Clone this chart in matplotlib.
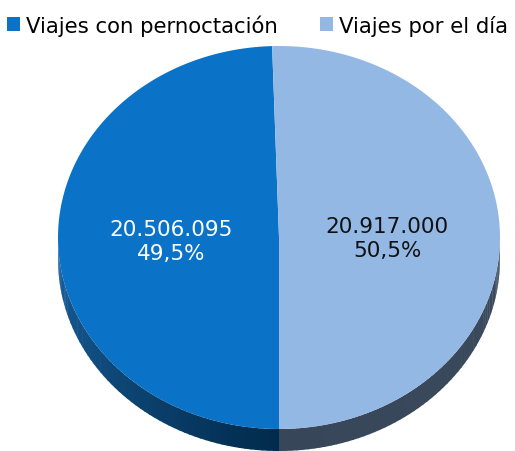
import numpy as np
import matplotlib.pyplot as plt
from matplotlib.patches import Polygon, Patch
from matplotlib.colors import to_rgb

# Datos
categorias = ['Viajes con pernoctación', 'Viajes por el día']
valores = [20506095, 20917000]
colores = ['#0a73c7', '#94b8e4']
color_texto = ['white', '#111111']

# Geometría de la tarta (en píxeles)
cx, cy = 279, 238.5
a, b = 221, 191.5
prof = 22

total = sum(valores)
fracs = [v / total for v in valores]

fig = plt.figure(figsize=(5.15, 4.52), dpi=100)
ax = fig.add_axes([0, 0, 1, 1])
ax.set_xlim(0, 515)
ax.set_ylim(452, 0)
ax.axis('off')


def punto(t, dy=0.0):
    t = np.radians(t)
    return cx + a * np.cos(t), cy - b * np.sin(t) + dy


# ángulos de las porciones: la primera termina abajo (270°)
fin0 = 270.0
ini0 = fin0 - fracs[0] * 360
angulos = [(ini0, fin0), (fin0, ini0 + 360)]

# lateral (solo la mitad inferior es visible)
def lateral(t1, t2, c1, c2, n=60):
    ts = np.linspace(t1, t2, n + 1)
    c1, c2 = np.array(to_rgb(c1)), np.array(to_rgb(c2))
    for i in range(n):
        tt = np.linspace(ts[i], ts[i + 1] + 0.3, 4)
        xs, ys = punto(tt)
        xb, yb = punto(tt[::-1], prof)
        pts = np.column_stack([np.r_[xs, xb], np.r_[ys, yb]])
        col = c1 + (c2 - c1) * (i / n)
        ax.add_patch(Polygon(pts, closed=True, fc=col, ec='none'))

lateral(180, 270, '#1a609c', '#002a4b')
lateral(270, 360, '#384659', '#3b4a5e')

# cara superior
for (t1, t2), col in zip(angulos, colores):
    tt = np.linspace(t1, t2, 300)
    xs, ys = punto(tt)
    pts = np.column_stack([np.r_[cx, xs], np.r_[cy, ys]])
    ax.add_patch(Polygon(pts, closed=True, fc=col, ec='none'))

# etiquetas
for (t1, t2), v, f, tc in zip(angulos, valores, fracs, color_texto):
    tm = np.radians((t1 + t2) / 2)
    x = cx + a * 0.49 * np.cos(tm)
    y = cy - b * 0.49 * np.sin(tm) + 2
    txt = f"{v:,}".replace(',', '.') + '\n' + f"{f * 100:.1f}".replace('.', ',') + '%'
    ax.text(x, y, txt, ha='center', va='center', color=tc, fontsize=15.5,
            family='DejaVu Sans', linespacing=1.3)

handles = [Patch(fc=c, ec='none') for c in colores]
fig.legend(handles, categorias, loc='upper center', bbox_to_anchor=(0.5, 0.995), ncol=2,
           frameon=False, fontsize=15.3, handlelength=0.6, handleheight=0.6,
           handletextpad=0.3, columnspacing=2.0, borderaxespad=0.2)

fig.savefig('out.png', dpi=100)
